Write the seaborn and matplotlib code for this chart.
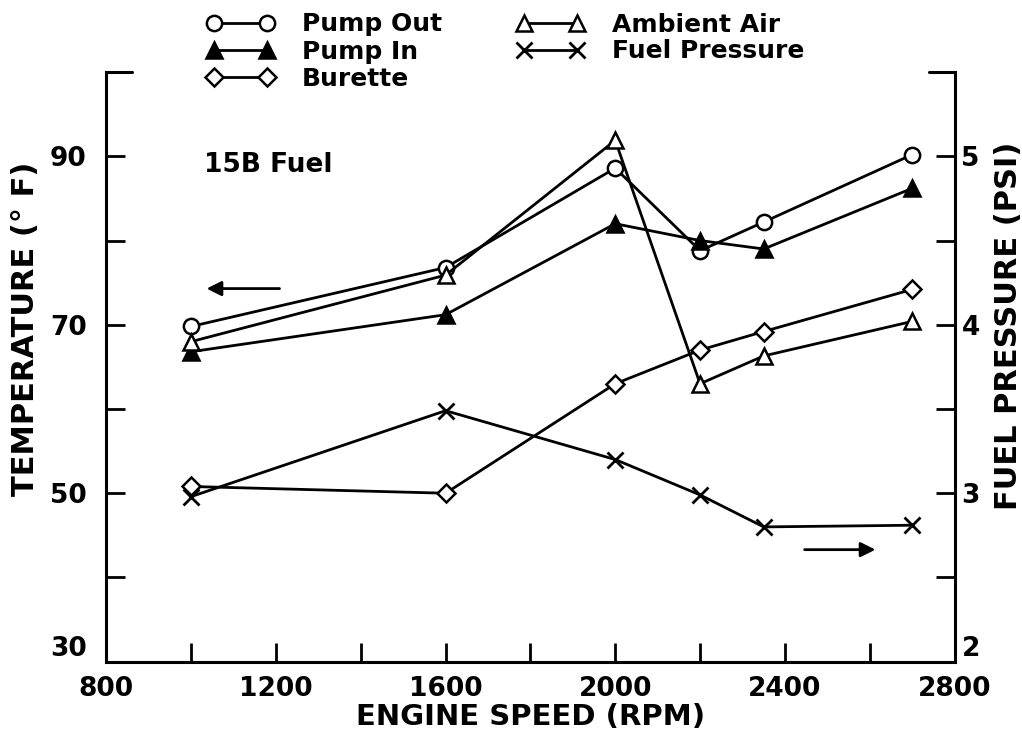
import matplotlib
matplotlib.use("Agg")
import matplotlib.pyplot as plt
import seaborn as sns
import pandas as pd

# engine speed (rpm) for every series
rpm = [1000, 1600, 2000, 2200, 2350, 2700]

# temperatures, deg F (left axis)
pump_out = [69.8, 76.8, 88.6, 78.8, 82.2, 90.2]
pump_in = [66.8, 71.2, 82.0, 80.0, 79.0, 86.2]
burette = [50.8, 50.0, 63.0, 67.0, 69.2, 74.2]
ambient_air = [68.0, 75.9, 91.9, 63.0, 66.3, 70.4]

# fuel pressure, psi (right axis)
fuel_pressure = [2.98, 3.49, 3.20, 2.99, 2.80, 2.81]

x_ticks = [800, 1200, 1600, 2000, 2400, 2800]
temp_ticks = [30, 50, 70, 90]
psi_ticks = [2, 3, 4, 5]

sns.set_style("ticks", {"axes.edgecolor": "black", "text.color": "black",
                        "axes.labelcolor": "black", "xtick.color": "black",
                        "ytick.color": "black"})
plt.rcParams["font.family"] = ["DejaVu Sans"]
plt.rcParams["font.weight"] = "bold"

df = pd.DataFrame({"rpm": rpm, "Pump Out": pump_out, "Pump In": pump_in,
                   "Burette": burette, "Ambient Air": ambient_air,
                   "Fuel Pressure": fuel_pressure})

fig = plt.figure(figsize=(10.22, 7.36), dpi=100)
ax = fig.add_axes([0.104, 0.101, 0.83, 0.801])
ax2 = ax.twinx()

kw = dict(color="black", linewidth=2, markersize=11, markeredgewidth=1.8,
          markeredgecolor="black")
sns.lineplot(data=df, x="rpm", y="Pump Out", ax=ax, marker="o",
             markerfacecolor="white", label="Pump Out", **kw)
sns.lineplot(data=df, x="rpm", y="Pump In", ax=ax, marker="^",
             markerfacecolor="black", label="Pump In", **kw)
sns.lineplot(data=df, x="rpm", y="Burette", ax=ax, marker="D",
             markerfacecolor="white", label="Burette", **dict(kw, markersize=9))
sns.lineplot(data=df, x="rpm", y="Ambient Air", ax=ax, marker="^",
             markerfacecolor="white", label="Ambient Air", **kw)
sns.lineplot(data=df, x="rpm", y="Fuel Pressure", ax=ax2, marker="x",
             label="Fuel Pressure", **dict(kw, markersize=12, markeredgewidth=2))

handles = ax.get_legend().legend_handles + ax2.get_legend().legend_handles
labels = ["Pump Out", "Pump In", "Burette", "Ambient Air", "Fuel Pressure"]
ax.get_legend().remove()
ax2.get_legend().remove()

ax.set_xlim(800, 2800)
ax.set_ylim(30, 100)
ax2.set_ylim(2, 5.5)
ax.set_xticks(x_ticks)
ax.set_xticks(range(800, 2801, 200), minor=True)
ax.set_yticks(temp_ticks)
ax.set_yticks(range(30, 100, 10), minor=True)
ax2.set_yticks(psi_ticks)
ax2.set_yticks([2, 2.5, 3, 3.5, 4, 4.5, 5], minor=True)

for a in (ax, ax2):
    a.tick_params(which="both", direction="in", length=14, width=2,
                  labelsize=19, pad=5, colors="black")
    for s in a.spines.values():
        s.set_linewidth(2.2)
        s.set_color("black")
    a.spines["top"].set_visible(False)
ax.tick_params(axis="x", pad=10)
ax.tick_params(axis="y", pad=14)
ax2.spines["left"].set_visible(False)
ax2.spines["bottom"].set_visible(False)
ax.spines["right"].set_visible(False)

# lowest y labels sit just above the corner, clear of the x labels
fig.canvas.draw()
ax.get_yticklabels()[0].set_va("bottom")
ax2.get_yticklabels()[0].set_va("bottom")

# short stubs where the top frame starts
ax.plot([0, 0.03], [1, 1], transform=ax.transAxes, color="black", lw=2.2,
        clip_on=False)
ax.plot([0.97, 1], [1, 1], transform=ax.transAxes, color="black", lw=2.2,
        clip_on=False)

ax.set_xlabel("ENGINE SPEED (RPM)", fontsize=21, fontweight="bold", labelpad=1)
ax.set_ylabel("TEMPERATURE (° F)", fontsize=22, fontweight="bold")
ax2.set_ylabel("FUEL PRESSURE (PSI)", fontsize=22, fontweight="bold")
ax.yaxis.set_label_coords(-0.078, 0.565)
ax2.yaxis.set_label_coords(1.046, 0.57)

ax.text(1030, 89, "15B Fuel", fontsize=19, fontweight="bold", va="center")
ax.annotate("", xy=(1030, 74.3), xytext=(1215, 74.3),
            arrowprops=dict(arrowstyle="-|>", color="black", lw=2,
                            mutation_scale=22))
ax.annotate("", xy=(2620, 43.3), xytext=(2440, 43.3),
            arrowprops=dict(arrowstyle="-|>", color="black", lw=2,
                            mutation_scale=22))

fig.legend(handles, labels, loc="upper left", bbox_to_anchor=(0.19, 1.0),
           ncol=2, frameon=False, fontsize=18, numpoints=2, handlelength=2.7,
           handletextpad=1.1, columnspacing=3.0, labelspacing=0.12,
           borderpad=0)

fig.savefig("out.png", dpi=100)
